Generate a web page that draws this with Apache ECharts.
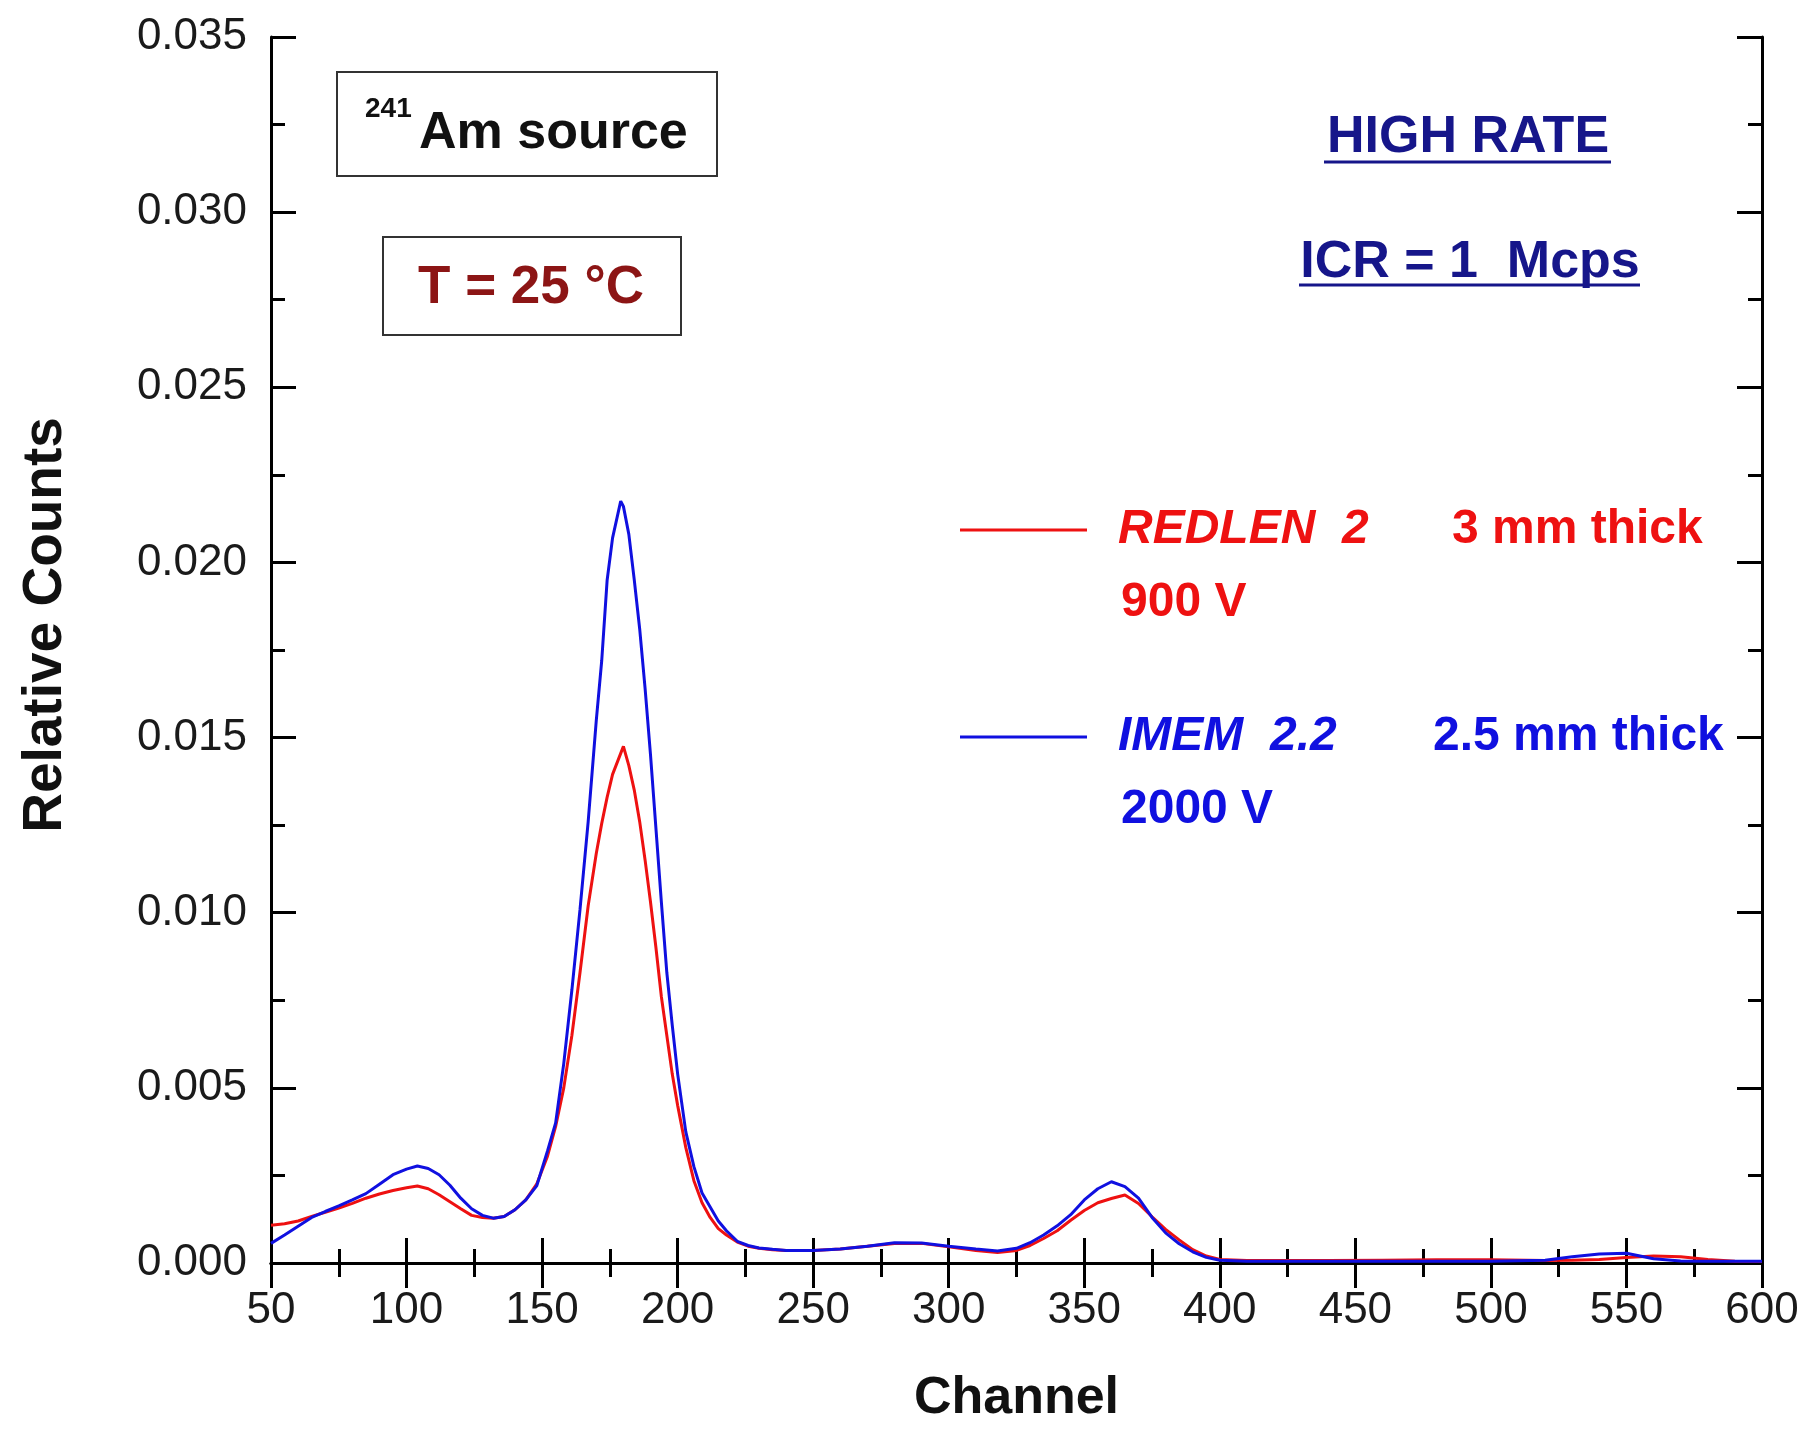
<!DOCTYPE html>
<html>
<head>
<meta charset="utf-8">
<script src="https://cdn.jsdelivr.net/npm/echarts@6/dist/echarts.min.js"></script>
<style>
html,body{margin:0;padding:0;background:#fff;}
#chart{width:1808px;height:1429px;}
</style>
</head>
<body>
<div id="chart"></div>
<script>
// ---- data ----
const channels = [50,55,60,65,70,75,80,85,90,95,100,104,108,112,116,120,124,128,132,136,140,144,148,152,155,158,161,164,167,170,172,174,176,178,179,180,182,184,186,188,190,192,194,196,198,200,203,206,209,212,215,218,222,226,230,235,240,250,260,270,280,290,300,310,318,325,330,335,340,345,350,355,360,365,370,375,380,385,390,395,400,410,420,440,460,480,500,520,530,540,550,560,570,580,590,600];

const redlen = [0.00108,0.00112,0.00120,0.00133,0.00145,0.00157,0.00170,0.00185,0.00197,0.00207,0.00215,0.00220,0.00212,0.00195,0.00175,0.00155,0.00136,0.00130,0.00128,0.00133,0.00152,0.00180,0.00225,0.00305,0.00390,0.00500,0.00650,0.00830,0.01020,0.01170,0.01255,0.01330,0.01395,0.01435,0.01455,0.01475,0.01420,0.01350,0.01260,0.01150,0.01030,0.00900,0.00760,0.00650,0.00540,0.00450,0.00330,0.00235,0.00172,0.00130,0.00098,0.00080,0.00060,0.00048,0.00042,0.00038,0.00036,0.00036,0.00040,0.00048,0.00056,0.00056,0.00046,0.00036,0.00030,0.00036,0.00050,0.00070,0.00092,0.00122,0.00150,0.00172,0.00184,0.00194,0.00170,0.00132,0.00096,0.00066,0.00038,0.00020,0.00010,0.00007,0.00007,0.00007,0.00008,0.00009,0.00009,0.00007,0.00008,0.00010,0.00016,0.00020,0.00018,0.00010,0.00005,0.00004];

const imem = [0.00056,0.00080,0.00105,0.00130,0.00147,0.00163,0.00180,0.00198,0.00225,0.00252,0.00268,0.00277,0.00270,0.00252,0.00222,0.00185,0.00155,0.00136,0.00128,0.00133,0.00152,0.00180,0.00220,0.00320,0.00400,0.00570,0.00780,0.01010,0.01260,0.01550,0.01720,0.01950,0.02070,0.02140,0.02175,0.02160,0.02080,0.01950,0.01810,0.01640,0.01450,0.01240,0.01030,0.00830,0.00680,0.00540,0.00375,0.00275,0.00200,0.00160,0.00120,0.00092,0.00062,0.00050,0.00043,0.00039,0.00036,0.00036,0.00040,0.00048,0.00058,0.00057,0.00048,0.00040,0.00034,0.00042,0.00058,0.00080,0.00106,0.00138,0.00180,0.00212,0.00232,0.00218,0.00185,0.00130,0.00086,0.00055,0.00032,0.00016,0.00008,0.00005,0.00005,0.00005,0.00005,0.00005,0.00005,0.00008,0.00018,0.00026,0.00028,0.00012,0.00006,0.00005,0.00005,0.00005];

const xTicks = {min: 50, max: 600, step: 50, minorStep: 25};
const yTicks = {min: 0, max: 0.035, step: 0.005, minorStep: 0.0025};

const seriesNames = ['REDLEN 2', 'IMEM 2.2'];

// ---- chart ----
const FONT = '"Liberation Sans", Arial, Helvetica, sans-serif';
const RED = '#ee1111';
const BLUE = '#1010e0';
const NAVY = '#16168a';
const DARKRED = '#8c1515';

const zip = (xs, ys) => xs.map((x, i) => [x, ys[i]]);

const chart = echarts.init(document.getElementById('chart'), null, {renderer: 'canvas'});

const axisLine = {show: true, lineStyle: {color: '#000', width: 3}};
const axisTick = {show: true, inside: true, length: 25, lineStyle: {color: '#000', width: 3}};
const minorAxisTick = {show: true, inside: true, length: 14, lineStyle: {color: '#000', width: 3}};
const labelStyle = {fontFamily: FONT, fontSize: 44, color: '#1a1a1a'};

// frame / mirror axis without labels
function plainAxis(type, position, t, tick, interval) {
  return {
    type: 'value', position,
    min: t.min, max: t.max, interval,
    axisLine: type === 'frame' ? axisLine : {show: false},
    axisTick: tick, axisLabel: {show: false}, splitLine: {show: false}
  };
}

const option = {
  animation: false,
  backgroundColor: '#fff',
  grid: {left: 271, right: 46, top: 37, bottom: 166, containLabel: false, outerBoundsMode: 'none'},
  xAxis: [
    {
      type: 'value', position: 'bottom',
      min: xTicks.min, max: xTicks.max, interval: xTicks.step,
      name: 'Channel', nameLocation: 'middle', nameGap: 110,
      nameTextStyle: {fontFamily: FONT, fontSize: 52, fontWeight: 'bold', color: '#111'},
      axisLine, axisTick,
      axisLabel: Object.assign({margin: 26}, labelStyle),
      splitLine: {show: false}
    },
    plainAxis('frame', 'top', xTicks, axisTick, xTicks.step),
    plainAxis('minor', 'bottom', xTicks, minorAxisTick, xTicks.minorStep),
    plainAxis('minor', 'top', xTicks, minorAxisTick, xTicks.minorStep)
  ],
  yAxis: [
    {
      type: 'value', position: 'left',
      min: yTicks.min, max: yTicks.max, interval: yTicks.step,
      name: 'Relative Counts', nameLocation: 'middle', nameGap: 198, nameRotate: 90,
      nameTextStyle: {fontFamily: FONT, fontSize: 55, fontWeight: 'bold', color: '#111', padding: [0, 0, 0, 50]},
      axisLine, axisTick,
      axisLabel: Object.assign({margin: 24, formatter: v => v.toFixed(3)}, labelStyle),
      splitLine: {show: false}
    },
    plainAxis('frame', 'right', yTicks, axisTick, yTicks.step),
    plainAxis('minor', 'left', yTicks, minorAxisTick, yTicks.minorStep),
    plainAxis('minor', 'right', yTicks, minorAxisTick, yTicks.minorStep)
  ],
  legend: {
    orient: 'vertical',
    left: 955, top: 500,
    itemWidth: 127, itemHeight: 3, itemGap: 157,
    icon: 'rect',
    selectedMode: false,
    data: [
      {name: seriesNames[0], itemStyle: {color: RED}},
      {name: seriesNames[1], itemStyle: {color: BLUE}}
    ],
    formatter: name => name === seriesNames[0]
      ? '{s|}{ra|REDLEN  2}{rb|3 mm thick}'
      : '{s|}{ba|IMEM  2.2}{bb|2.5 mm thick}',
    textStyle: {
      lineHeight: 50,
      rich: {
        s: {width: 26},
        ra: {width: 334, fontFamily: FONT, fontSize: 48, fontWeight: 'bold', fontStyle: 'italic', color: RED, lineHeight: 50},
        rb: {fontFamily: FONT, fontSize: 48, fontWeight: 'bold', color: RED, lineHeight: 50},
        ba: {width: 315, fontFamily: FONT, fontSize: 48, fontWeight: 'bold', fontStyle: 'italic', color: BLUE, lineHeight: 50},
        bb: {fontFamily: FONT, fontSize: 48, fontWeight: 'bold', color: BLUE, lineHeight: 50}
      }
    }
  },
  graphic: [
    {type: 'rect', shape: {x: 337, y: 72, width: 380, height: 104}, style: {fill: '#fff', stroke: '#333', lineWidth: 2}, z: 10},
    {type: 'text', x: 365, y: 109, z: 11, style: {text: '241', font: 'bold 28px ' + FONT, fill: '#111', textVerticalAlign: 'middle'}},
    {type: 'text', x: 419, y: 134, z: 11, style: {text: 'Am source', font: 'bold 52px ' + FONT, fill: '#111', textVerticalAlign: 'middle'}},
    {type: 'rect', shape: {x: 383, y: 237, width: 298, height: 98}, style: {fill: '#fff', stroke: '#333', lineWidth: 2}, z: 10},
    {type: 'text', x: 531, y: 288, z: 11, style: {text: 'T = 25 °C', font: 'bold 53px ' + FONT, fill: DARKRED, textAlign: 'center', textVerticalAlign: 'middle'}},
    {type: 'text', x: 1468, y: 138, z: 11, style: {text: 'HIGH RATE', font: 'bold 52px ' + FONT, fill: NAVY, textAlign: 'center', textVerticalAlign: 'middle'}},
    {type: 'line', shape: {x1: 1324, y1: 162, x2: 1611, y2: 162}, style: {stroke: NAVY, lineWidth: 3}, z: 11},
    {type: 'text', x: 1470, y: 263, z: 11, style: {text: 'ICR = 1  Mcps', font: 'bold 52px ' + FONT, fill: NAVY, textAlign: 'center', textVerticalAlign: 'middle'}},
    {type: 'line', shape: {x1: 1299, y1: 285, x2: 1640, y2: 285}, style: {stroke: NAVY, lineWidth: 3}, z: 11},
    {type: 'text', x: 1121, y: 603, z: 11, style: {text: '900 V', font: 'bold 48px ' + FONT, fill: RED, textVerticalAlign: 'middle'}},
    {type: 'text', x: 1121, y: 810, z: 11, style: {text: '2000 V', font: 'bold 48px ' + FONT, fill: BLUE, textVerticalAlign: 'middle'}}
  ],
  series: [
    {
      name: seriesNames[0], type: 'line', xAxisIndex: 0, yAxisIndex: 0,
      data: zip(channels, redlen), showSymbol: false, symbol: 'none',
      lineStyle: {color: RED, width: 3}, itemStyle: {color: RED}, z: 2
    },
    {
      name: seriesNames[1], type: 'line', xAxisIndex: 0, yAxisIndex: 0,
      data: zip(channels, imem), showSymbol: false, symbol: 'none',
      lineStyle: {color: BLUE, width: 3}, itemStyle: {color: BLUE}, z: 3
    }
  ]
};
chart.setOption(option);
</script>
</body>
</html>
